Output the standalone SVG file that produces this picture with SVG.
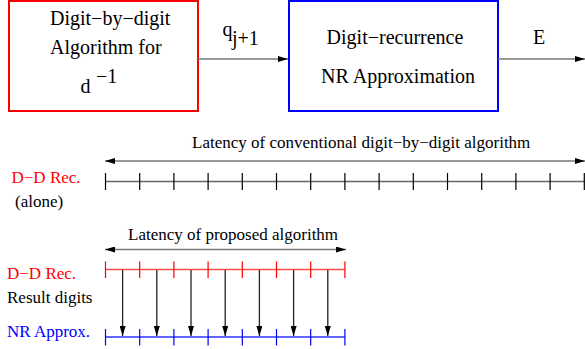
<svg xmlns="http://www.w3.org/2000/svg" width="585" height="349" viewBox="0 0 585 349">
  <style>
    .t { font-family: "Liberation Serif", "Times New Roman", Times, "Nimbus Roman", "DejaVu Serif", serif; fill: #000; }
    .big { font-size: 20px; }
    .lab { font-size: 17px; }
    .red { fill: #ff0000; }
    .blue { fill: #0000ff; }
    .conn { stroke: #777; stroke-width: 1.6; fill: none; }
    .axis { stroke: #666; stroke-width: 1.4; fill: none; }
    .tick { stroke: #000; stroke-width: 1.2; }
    .rline { stroke: #ff5050; stroke-width: 1.4; fill: none; }
    .rtick { stroke: #ff0000; stroke-width: 1.2; }
    .bline { stroke: #3030ff; stroke-width: 1.4; fill: none; }
    .btick { stroke: #0000ff; stroke-width: 1.2; }
    .digit { stroke: #222; stroke-width: 1.3; fill: none; }
  </style>
  <defs>
    <marker id="ah" viewBox="0 0 10 6" refX="10" refY="3" markerWidth="10" markerHeight="6" markerUnits="userSpaceOnUse" orient="auto-start-reverse">
      <path d="M0,0 L10,3 L0,6 Z" fill="#000"/>
    </marker>
    <marker id="ahd" viewBox="0 0 6 10" refX="3" refY="10" markerWidth="6" markerHeight="10" markerUnits="userSpaceOnUse" orient="0">
      <path d="M0,0 L3,10 L6,0 Z" fill="#000"/>
    </marker>
  </defs>

  <g font-family="Liberation Serif, serif">
  <!-- Digit-by-digit reciprocal unit -->
  <g id="dbd">
    <rect x="9" y="1" width="189" height="110" fill="none" stroke="#ff0000" stroke-width="2"/>
    <text class="t big" x="50" y="25">Digit−by−digit</text>
    <text class="t big" x="50" y="54">Algorithm for</text>
    <text class="t big" x="80.5" y="93">d</text>
    <text class="t big" x="96" y="83">−1</text>
  </g>

  <!-- Digit-recurrence Newton-Raphson unit -->
  <g id="nr">
    <rect x="289" y="1" width="209" height="110" fill="none" stroke="#0000ff" stroke-width="2"/>
    <text class="t big" x="395" y="44" text-anchor="middle">Digit−recurrence</text>
    <text class="t big" x="398" y="83" text-anchor="middle">NR Approximation</text>
  </g>

  <!-- Connectors between units -->
  <g id="connectors">
    <line class="conn" x1="198" y1="59" x2="288" y2="59" marker-end="url(#ah)"/>
    <text class="t big" x="222.5" y="36">q</text>
    <text class="t big" x="232" y="44.5">j+1</text>
    <line class="conn" x1="498" y1="59" x2="585" y2="59" marker-end="url(#ah)"/>
    <text class="t big" x="533" y="44">E</text>
  </g>

  <!-- Conventional latency timeline -->
  <g id="conventional">
    <text class="t lab" x="192" y="148">Latency of conventional digit−by−digit algorithm</text>
    <line class="conn" x1="105" y1="161" x2="585" y2="161" marker-start="url(#ah)" marker-end="url(#ah)"/>
    <text class="t lab red" x="11.5" y="183">D−D Rec.</text>
    <text class="t lab" x="15" y="207">(alone)</text>
    <line class="axis" x1="105.5" y1="181.5" x2="584.5" y2="181.5"/>
    <g class="tick">
      <line x1="105.5" y1="173" x2="105.5" y2="190"/>
      <line x1="139.7" y1="173" x2="139.7" y2="190"/>
      <line x1="173.9" y1="173" x2="173.9" y2="190"/>
      <line x1="208.1" y1="173" x2="208.1" y2="190"/>
      <line x1="242.3" y1="173" x2="242.3" y2="190"/>
      <line x1="276.5" y1="173" x2="276.5" y2="190"/>
      <line x1="310.7" y1="173" x2="310.7" y2="190"/>
      <line x1="344.9" y1="173" x2="344.9" y2="190"/>
      <line x1="379.1" y1="173" x2="379.1" y2="190"/>
      <line x1="413.3" y1="173" x2="413.3" y2="190"/>
      <line x1="447.5" y1="173" x2="447.5" y2="190"/>
      <line x1="481.7" y1="173" x2="481.7" y2="190"/>
      <line x1="515.9" y1="173" x2="515.9" y2="190"/>
      <line x1="550.1" y1="173" x2="550.1" y2="190"/>
      <line x1="584.3" y1="173" x2="584.3" y2="190"/>
    </g>
  </g>

  <!-- Proposed overlapped timeline -->
  <g id="proposed">
    <text class="t lab" x="128" y="240">Latency of proposed algorithm</text>
    <line class="conn" x1="105" y1="249.5" x2="346" y2="249.5" marker-start="url(#ah)" marker-end="url(#ah)"/>
    <text class="t lab red" x="7" y="279">D−D Rec.</text>
    <text class="t lab" x="7" y="303">Result digits</text>
    <text class="t lab blue" x="7" y="337">NR Approx.</text>

    <line class="rline" x1="105.5" y1="269.5" x2="344.9" y2="269.5"/>
    <g class="rtick">
      <line x1="105.5" y1="261.5" x2="105.5" y2="278"/>
      <line x1="139.7" y1="261.5" x2="139.7" y2="278"/>
      <line x1="173.9" y1="261.5" x2="173.9" y2="278"/>
      <line x1="208.1" y1="261.5" x2="208.1" y2="278"/>
      <line x1="242.3" y1="261.5" x2="242.3" y2="278"/>
      <line x1="276.5" y1="261.5" x2="276.5" y2="278"/>
      <line x1="310.7" y1="261.5" x2="310.7" y2="278"/>
      <line x1="344.9" y1="261.5" x2="344.9" y2="278"/>
    </g>

    <line class="bline" x1="105.5" y1="337" x2="344.9" y2="337"/>
    <g class="btick">
      <line x1="105.5" y1="329" x2="105.5" y2="345.5"/>
      <line x1="139.7" y1="329" x2="139.7" y2="345.5"/>
      <line x1="173.9" y1="329" x2="173.9" y2="345.5"/>
      <line x1="208.1" y1="329" x2="208.1" y2="345.5"/>
      <line x1="242.3" y1="329" x2="242.3" y2="345.5"/>
      <line x1="276.5" y1="329" x2="276.5" y2="345.5"/>
      <line x1="310.7" y1="329" x2="310.7" y2="345.5"/>
      <line x1="344.9" y1="329" x2="344.9" y2="345.5"/>
    </g>

    <g class="digit">
      <line x1="122.6" y1="270" x2="122.6" y2="336" marker-end="url(#ahd)"/>
      <line x1="156.8" y1="270" x2="156.8" y2="336" marker-end="url(#ahd)"/>
      <line x1="191" y1="270" x2="191" y2="336" marker-end="url(#ahd)"/>
      <line x1="225.2" y1="270" x2="225.2" y2="336" marker-end="url(#ahd)"/>
      <line x1="259.4" y1="270" x2="259.4" y2="336" marker-end="url(#ahd)"/>
      <line x1="293.6" y1="270" x2="293.6" y2="336" marker-end="url(#ahd)"/>
      <line x1="327.8" y1="270" x2="327.8" y2="336" marker-end="url(#ahd)"/>
    </g>
  </g>
  </g>
</svg>
